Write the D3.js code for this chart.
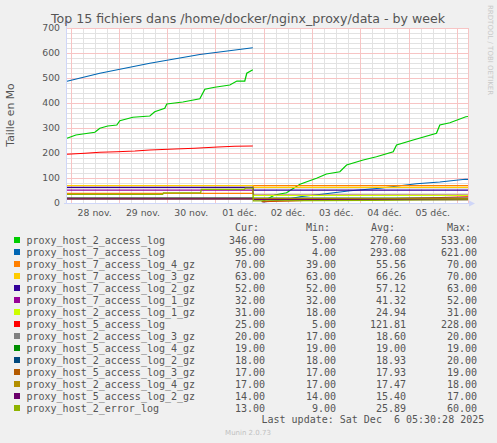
<!DOCTYPE html>
<html>
<head>
<meta charset="utf-8">
<script src="https://cdn.jsdelivr.net/npm/d3@7"></script>
<style>
  html, body { margin: 0; padding: 0; background: #F0F0F0; }
  svg { display: block; }
</style>
</head>
<body>
<svg id="chart" width="497" height="443"></svg>
<script>
// Munin "by week" graph: Top 15 fichiers dans /home/docker/nginx_proxy/data
const timeStart = "2025-11-27 22:15";
const timeEnd = "2025-12-06 05:30";
const yTicks = [0, 100, 200, 300, 400, 500, 600, 700];
const monthNames = ["janv.", "févr.", "mars", "avr.", "mai", "juin", "juil.", "août", "sept.", "oct.", "nov.", "déc."];

const seriesNames = [
    "proxy_host_2_access_log", "proxy_host_7_access_log", "proxy_host_7_access_log_4_gz",
    "proxy_host_7_access_log_3_gz", "proxy_host_7_access_log_2_gz", "proxy_host_7_access_log_1_gz",
    "proxy_host_2_access_log_1_gz", "proxy_host_5_access_log", "proxy_host_2_access_log_3_gz",
    "proxy_host_5_access_log_4_gz", "proxy_host_2_access_log_2_gz", "proxy_host_5_access_log_3_gz",
    "proxy_host_2_access_log_4_gz", "proxy_host_5_access_log_2_gz", "proxy_host_2_error_log"
];
const seriesColors = ["#00CC00", "#0066B3", "#FF8000", "#FFCC00", "#330099", "#990099", "#CCFF00", "#FF0000",
    "#808080", "#008F00", "#00487D", "#B35A00", "#B38F00", "#6B006B", "#8FB300"];

const curValues = ["346.00", "95.00", "70.00", "63.00", "52.00", "32.00", "31.00", "25.00", "20.00", "19.00", "18.00", "17.00", "17.00", "14.00", "13.00"];
const minValues = ["5.00", "4.00", "39.00", "63.00", "52.00", "32.00", "18.00", "5.00", "17.00", "19.00", "18.00", "17.00", "17.00", "14.00", "9.00"];
const avgValues = ["270.60", "293.08", "55.56", "66.26", "57.12", "41.32", "24.94", "121.81", "18.60", "19.00", "18.93", "17.93", "17.47", "15.40", "25.89"];
const maxValues = ["533.00", "621.00", "70.00", "70.00", "63.00", "52.00", "31.00", "228.00", "20.00", "19.00", "20.00", "19.00", "18.00", "17.00", "60.00"];

// [time, size in Mo] ; null = no data
const host2Access = [
    ["2025-11-27 22:15", 259], ["2025-11-28 02:40", 272], ["2025-11-28 12:05", 283], ["2025-11-28 14:35", 299],
    ["2025-11-28 18:30", 308], ["2025-11-28 23:00", 312], ["2025-11-29 00:30", 329], ["2025-11-29 07:00", 343],
    ["2025-11-29 15:25", 348], ["2025-11-29 17:50", 365], ["2025-11-29 22:50", 379], ["2025-11-29 23:50", 396],
    ["2025-11-30 07:50", 404], ["2025-11-30 16:15", 417], ["2025-11-30 18:45", 455], ["2025-11-30 23:40", 463],
    ["2025-12-01 07:10", 472], ["2025-12-01 10:40", 488], ["2025-12-01 14:35", 488], ["2025-12-01 15:35", 519],
    ["2025-12-01 18:35", 533], ["2025-12-01 20:00", null],
    ["2025-12-01 23:00", 5], ["2025-12-02 05:30", 32], ["2025-12-02 11:20", 41], ["2025-12-02 18:00", 75],
    ["2025-12-03 02:15", 99], ["2025-12-03 07:10", 116], ["2025-12-03 13:50", 125], ["2025-12-03 17:10", 152],
    ["2025-12-04 01:25", 172], ["2025-12-04 08:00", 185], ["2025-12-04 16:20", 205], ["2025-12-04 18:00", 232],
    ["2025-12-05 02:15", 252], ["2025-12-05 13:50", 279], ["2025-12-05 15:30", 312], ["2025-12-05 20:30", 321],
    ["2025-12-06 04:25", 345], ["2025-12-06 05:30", 346]
];
const host7Access = [
    ["2025-11-27 22:15", 487], ["2025-11-28 14:35", 519], ["2025-11-29 15:25", 559], ["2025-11-30 16:15", 594],
    ["2025-12-01 18:35", 621], ["2025-12-01 20:00", null],
    ["2025-12-01 23:30", 4], ["2025-12-02 09:30", 12], ["2025-12-02 18:00", 25], ["2025-12-03 04:45", 35],
    ["2025-12-03 19:00", 49], ["2025-12-04 09:40", 59], ["2025-12-04 18:35", 68], ["2025-12-05 03:55", 77],
    ["2025-12-05 15:30", 84], ["2025-12-06 04:05", 95], ["2025-12-06 05:30", 95]
];
const host7Log4 = [["2025-11-27 22:15", 39], ["2025-12-01 18:35", 39], ["2025-12-01 18:50", 70], ["2025-12-06 05:30", 70]];
const host7Log3 = [["2025-11-27 22:15", 70], ["2025-12-01 18:35", 70], ["2025-12-01 18:50", 63], ["2025-12-06 05:30", 63]];
const host7Log2 = [["2025-11-27 22:15", 63], ["2025-12-01 18:35", 63], ["2025-12-01 18:50", 52], ["2025-12-06 05:30", 52]];
const host7Log1 = [["2025-11-27 22:15", 52], ["2025-12-01 18:20", 52], ["2025-12-01 19:00", 32], ["2025-12-06 05:30", 32]];
const host2Log1 = [["2025-11-27 22:15", 18], ["2025-12-01 18:35", 18], ["2025-12-01 18:50", 31], ["2025-12-06 05:30", 31]];
const host5Access = [
    ["2025-11-27 22:15", 195], ["2025-11-28 07:10", 199], ["2025-11-28 14:35", 203], ["2025-11-28 23:00", 205],
    ["2025-11-29 08:00", 208], ["2025-11-29 15:25", 212], ["2025-11-30 03:50", 216], ["2025-11-30 13:45", 219],
    ["2025-12-01 01:10", 224], ["2025-12-01 09:35", 227], ["2025-12-01 18:35", 228], ["2025-12-01 20:00", null],
    ["2025-12-01 23:00", 5], ["2025-12-02 12:00", 8], ["2025-12-03 00:00", 11], ["2025-12-03 12:00", 12],
    ["2025-12-04 00:00", 15], ["2025-12-04 12:00", 17], ["2025-12-05 03:00", 20], ["2025-12-05 16:00", 22],
    ["2025-12-06 05:30", 25]
];
const host2Log3 = [["2025-11-27 22:15", 17], ["2025-12-01 18:35", 17], ["2025-12-01 18:50", 20], ["2025-12-06 05:30", 20]];
const host5Log4 = [["2025-11-27 22:15", 19], ["2025-12-06 05:30", 19]];
const host2Log2 = [["2025-11-27 22:15", 20], ["2025-12-01 18:35", 20], ["2025-12-01 18:50", 18], ["2025-12-06 05:30", 18]];
const host5Log3 = [["2025-11-27 22:15", 19], ["2025-12-01 18:35", 19], ["2025-12-01 18:50", 17], ["2025-12-06 05:30", 17]];
const host2Log4 = [["2025-11-27 22:15", 18], ["2025-12-01 18:35", 18], ["2025-12-01 18:50", 17], ["2025-12-06 05:30", 17]];
const host5Log2 = [["2025-11-27 22:15", 17], ["2025-12-01 18:35", 17], ["2025-12-01 18:50", 14], ["2025-12-06 05:30", 14]];
const host2Error = [
    ["2025-11-27 22:15", 35], ["2025-11-29 21:50", 35], ["2025-11-29 22:10", 41], ["2025-11-30 16:40", 41],
    ["2025-11-30 17:00", 55], ["2025-12-01 14:30", 55], ["2025-12-01 14:50", 60], ["2025-12-01 18:35", 60],
    ["2025-12-01 18:50", 9], ["2025-12-03 00:00", 10], ["2025-12-04 06:00", 11], ["2025-12-05 06:00", 12],
    ["2025-12-06 05:30", 13]
];
const seriesData = [host2Access, host7Access, host7Log4, host7Log3, host7Log2, host7Log1, host2Log1, host5Access,
    host2Log3, host5Log4, host2Log2, host5Log3, host2Log4, host5Log2, host2Error];

const parseTime = d3.timeParse("%Y-%m-%d %H:%M");
const svg = d3.select("#chart");
const plot = { left: 67, right: 468, top: 28, bottom: 203 };
const fontColor = "#555555";
const axisColor = "#CFD6F8";
const minorGrid = "#E2E2E2";
const majorGrid = "#F7C4C4";

const x = d3.scaleTime().domain([parseTime(timeStart), parseTime(timeEnd)]).range([plot.left, plot.right]);
const y = d3.scaleLinear().domain([0, 700]).range([plot.bottom, plot.top]);

svg.append("rect").attr("width", 497).attr("height", 443).attr("fill", "#F0F0F0");
svg.append("rect").attr("x", plot.left).attr("y", plot.top)
    .attr("width", plot.right - plot.left).attr("height", plot.bottom - plot.top).attr("fill", "#FFFFFF");

// grid
const grid = svg.append("g").attr("shape-rendering", "crispEdges");
function gridLine(x1, y1, x2, y2, color) {
    grid.append("line").attr("x1", x1).attr("y1", y1).attr("x2", x2).attr("y2", y2)
        .attr("stroke", color).attr("stroke-width", 1);
}
d3.range(20, 701, 20).filter(v => v % 100 !== 0).forEach(v => {
    const py = Math.round(y(v)) + 0.5;
    gridLine(plot.left, py, plot.right, py, minorGrid);
});
d3.timeHour.every(6).range(x.domain()[0], x.domain()[1]).filter(t => t.getHours() !== 0).forEach(t => {
    const px = Math.round(x(t)) + 0.5;
    gridLine(px, plot.top, px, plot.bottom, minorGrid);
});
yTicks.filter(v => v > 0).forEach(v => {
    const py = Math.round(y(v)) + 0.5;
    gridLine(plot.left, py, plot.right, py, majorGrid);
});
d3.timeDay.range(x.domain()[0], x.domain()[1]).forEach(t => {
    const px = Math.round(x(t)) + 0.5;
    gridLine(px, plot.top, px, plot.bottom, majorGrid);
});
gridLine(plot.right + 0.5, plot.top, plot.right + 0.5, plot.bottom, majorGrid);

// y tick labels
svg.append("g").selectAll("text").data(yTicks).enter().append("text")
    .attr("x", 60).attr("y", d => y(d) + 3.3)
    .attr("text-anchor", "end").attr("font-family", "DejaVu Sans").attr("font-size", "9.3px").attr("fill", fontColor)
    .text(d => d);

// x tick labels at noon
const noonTicks = d3.timeDay.range(d3.timeDay.ceil(x.domain()[0]), x.domain()[1]).map(d => d3.timeHour.offset(d, 12)).filter(d => d < x.domain()[1]);
svg.append("g").selectAll("text").data(noonTicks).enter().append("text")
    .attr("x", d => x(d)).attr("y", 216)
    .attr("text-anchor", "middle").attr("font-family", "DejaVu Sans").attr("font-size", "9.3px").attr("fill", fontColor)
    .text(d => d3.timeFormat("%d")(d) + " " + monthNames[d.getMonth()]);

// series lines
const line = d3.line()
    .defined(d => d[1] !== null)
    .x(d => x(parseTime(d[0])))
    .y(d => y(d[1]));
seriesData.forEach((s, i) => {
    svg.append("path").datum(s)
        .attr("fill", "none").attr("stroke", seriesColors[i]).attr("stroke-width", 1.25)
        .attr("d", line);
});

// axes with arrows
svg.append("line").attr("x1", plot.left - 0.5).attr("x2", plot.left - 0.5).attr("y1", plot.bottom).attr("y2", 21).attr("stroke", axisColor);
svg.append("line").attr("x1", plot.left - 3).attr("x2", 472).attr("y1", plot.bottom + 0.5).attr("y2", plot.bottom + 0.5).attr("stroke", axisColor);
svg.append("path").attr("d", `M${plot.left - 3.5},24 L${plot.left - 0.5},18 L${plot.left + 2.5},24 Z`).attr("fill", axisColor);
svg.append("path").attr("d", `M469,${plot.bottom - 2.5} L475,${plot.bottom + 0.5} L469,${plot.bottom + 3.5} Z`).attr("fill", axisColor);

// title and labels
svg.append("text").attr("x", 248).attr("y", 23).attr("text-anchor", "middle")
    .attr("font-family", "DejaVu Sans").attr("font-size", "12.6px").attr("fill", fontColor)
    .text("Top 15 fichiers dans /home/docker/nginx_proxy/data - by week");
svg.append("text").attr("transform", "translate(14,115) rotate(-90)").attr("text-anchor", "middle")
    .attr("font-family", "DejaVu Sans").attr("font-size", "10.8px").attr("fill", fontColor)
    .text("Taille en Mo");
svg.append("text").attr("transform", "translate(488,5) rotate(90)").attr("text-anchor", "start")
    .attr("font-family", "DejaVu Sans").attr("font-size", "7px").attr("fill", "#C8C8C8")
    .text("RRDTOOL / TOBI OETIKER");

// legend
const mono = "DejaVu Sans Mono";
const legend = svg.append("g").attr("font-family", mono).attr("font-size", "10px").attr("fill", fontColor);
[["Cur:", 235], ["Min:", 306], ["Avg:", 371], ["Max:", 447]].forEach(h => {
    legend.append("text").attr("x", h[1]).attr("y", 231).text(h[0]);
});
const rows = legend.selectAll("g.row").data(seriesNames).enter().append("g")
    .attr("transform", (d, i) => `translate(0,${240 + i * 12})`);
rows.append("rect").attr("x", 14).attr("y", -3).attr("width", 6).attr("height", 6).attr("fill", (d, i) => seriesColors[i]);
rows.append("text").attr("x", 26.5).attr("y", 3.5).text(d => d);
[[curValues, 265], [minValues, 336], [avgValues, 406], [maxValues, 477]].forEach(col => {
    rows.append("text").attr("x", col[1]).attr("y", 3.5).attr("text-anchor", "end").text((d, i) => col[0][i]);
});
legend.append("text").attr("x", 261.5).attr("y", 423).text("Last update: Sat Dec \u00A06 05:30:28 2025");

svg.append("text").attr("x", 248).attr("y", 435).attr("text-anchor", "middle")
    .attr("font-family", "DejaVu Sans").attr("font-size", "7px").attr("fill", "#C0C0C0")
    .text("Munin 2.0.73");
</script>
</body>
</html>
